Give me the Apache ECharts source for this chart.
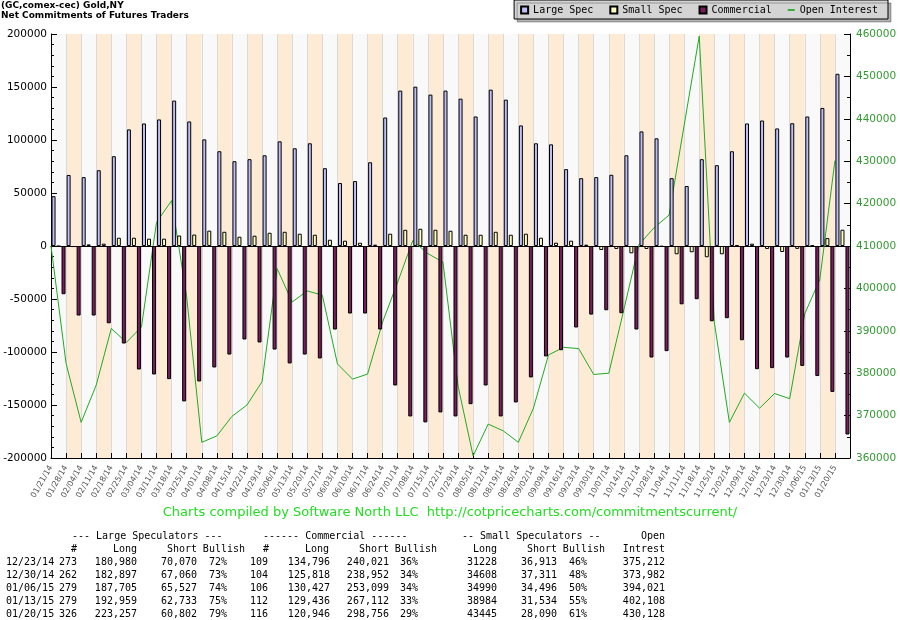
<!DOCTYPE html>
<html>
<head>
<meta charset="utf-8">
<title>Gold COT</title>
<script src="https://cdn.jsdelivr.net/npm/echarts@6/dist/echarts.min.js"></script>
<style>
  html, body { margin: 0; padding: 0; background: #fff; }
  #main { width: 900px; height: 620px; }
</style>
</head>
<body>
<div id="main"></div>
<script>
'use strict';

// weekly report dates
var dates = ['01/21/14','01/28/14','02/04/14','02/11/14','02/18/14','02/25/14','03/04/14','03/11/14','03/18/14','03/25/14',
  '04/01/14','04/08/14','04/15/14','04/22/14','04/29/14','05/06/14','05/13/14','05/20/14','05/27/14','06/03/14',
  '06/10/14','06/17/14','06/24/14','07/01/14','07/08/14','07/15/14','07/22/14','07/29/14','08/05/14','08/12/14',
  '08/19/14','08/26/14','09/02/14','09/09/14','09/16/14','09/23/14','09/30/14','10/07/14','10/14/14','10/21/14',
  '10/28/14','11/04/14','11/11/14','11/18/14','11/25/14','12/02/14','12/09/14','12/16/14','12/23/14','12/30/14',
  '01/06/15','01/13/15','01/20/15'];

// net positions
var largeSpec = [47000, 67000, 65000, 71500, 84700, 110000, 115600, 119400, 137200, 117500,
  100600, 89400, 80000, 81900, 85600, 98750, 92200, 96900, 73400, 59400,
  61250, 79000, 121250, 146600, 150300, 142800, 146600, 139000, 122200, 147500,
  138100, 113750, 96900, 95900, 72500, 64000, 65000, 67200, 85600, 108100,
  101600, 64000, 56600, 81900, 76250, 89400, 115600, 118400, 110910, 115827,
  122178, 130226, 162455];

var smallSpec = [-300, -1000, 1500, 2200, 7800, 7800, 6900, 6900, 9900, 10800,
  14500, 13400, 8750, 9700, 12500, 13400, 11600, 10600, 5900, 5000,
  3100, 1250, 11600, 15300, 16250, 15300, 14400, 10600, 10600, 13400,
  10600, 11600, 7800, 3100, 5000, 1250, -3750, -2800, -6900, -2800,
  -600, -7800, -5900, -10600, -7800, 900, 2200, -2800, -5685, -2703,
  494, 7450, 15355];

var commercial = [-45500, -65600, -65600, -72900, -92000, -116500, -121200, -125600, -146600, -127800,
  -114600, -102400, -88200, -91000, -97700, -110800, -102400, -106100, -78800, -63700,
  -63700, -78800, -131600, -160800, -166400, -157000, -160800, -149200, -131600, -160800,
  -147600, -124000, -104200, -98300, -76900, -64700, -60600, -63400, -78800, -105200,
  -99200, -55000, -50200, -71000, -68100, -88900, -116200, -115200, -105225, -113134,
  -122672, -137676, -177810];

var openInterest = [410000, 382300, 368400, 377200, 390550, 387260, 390900, 415600, 420700, 398000,
  363700, 365200, 369800, 372500, 378000, 404650, 396800, 399400, 398400, 382200,
  378600, 379800, 392100, 401500, 411300, 408200, 406200, 377000, 360500, 368000,
  366400, 363700, 371750, 384300, 386100, 385800, 379700, 380000, 395000, 410300,
  414300, 417300, 438500, 459500, 392000, 368400, 375300, 371750, 375212, 373982,
  394021, 402108, 430128];

// summary table
var tblDates   = ['12/23/14', '12/30/14', '01/06/15', '01/13/15', '01/20/15'];
var lsTraders  = ['273', '262', '279', '279', '326'];
var lsLong     = ['180,980', '182,897', '187,705', '192,959', '223,257'];
var lsShort    = ['70,070', '67,060', '65,527', '62,733', '60,802'];
var lsBullish  = ['72%', '73%', '74%', '75%', '79%'];
var cmTraders  = ['109', '104', '106', '112', '116'];
var cmLong     = ['134,796', '125,818', '130,427', '129,436', '120,946'];
var cmShort    = ['240,021', '238,952', '253,099', '267,112', '298,756'];
var cmBullish  = ['36%', '34%', '34%', '33%', '29%'];
var ssLong     = ['31228', '34608', '34990', '38984', '43445'];
var ssShort    = ['36,913', '37,311', '34,496', '31,534', '28,090'];
var ssBullish  = ['46%', '48%', '50%', '55%', '61%'];
var oiTotal    = ['375,212', '373,982', '394,021', '402,108', '430,128'];

var myChart = echarts.init(document.getElementById('main'));

var MONO = '10px "DejaVu Sans Mono"';
var graphics = [];

function txt(x, y, s, align, fill, font) {
	graphics.push({
		type: 'text', x: x, y: y, silent: true,
		style: { text: s, x: 0, y: 0, textAlign: align || 'right', textVerticalAlign: 'middle',
			fill: fill || '#000', font: font || MONO }
	});
}

// table headers
txt(72, 536, '--- Large Speculators ---', 'left');
txt(263, 536, '------ Commercial ------', 'left');
txt(462, 536, '-- Small Speculators --', 'left');
txt(665, 536, 'Open');
var hdr = [['#', 77], ['Long', 137], ['Short', 197], ['Bullish', 245], ['#', 269], ['Long', 329],
	['Short', 389], ['Bullish', 437], ['Long', 497], ['Short', 557], ['Bullish', 605], ['Intrest', 665]];
for (var h = 0; h < hdr.length; h++) {
	txt(hdr[h][1], 549, hdr[h][0]);
}
var cols = [[lsTraders, 77], [lsLong, 137], [lsShort, 197], [lsBullish, 227], [cmTraders, 268],
	[cmLong, 330], [cmShort, 389], [cmBullish, 418], [ssLong, 497], [ssShort, 557],
	[ssBullish, 587], [oiTotal, 665]];
for (var r = 0; r < tblDates.length; r++) {
	var y = 562 + r * 13;
	txt(6, y, tblDates[r], 'left');
	for (var c = 0; c < cols.length; c++) {
		txt(cols[c][1], y, cols[c][0][r]);
	}
}
txt(450, 513, 'Charts compiled by Software North LLC  http://cotpricecharts.com/commitmentscurrent/',
	'center', '#22dd22', '13px "DejaVu Sans"');

// label axis has one extra slot so its ticks sit on the bar band edges
var tickDates = dates.concat(['']);

function plain(v) { return String(v); }

var option = {
	animation: false,
	backgroundColor: '#ffffff',
	title: {
		text: '(GC,comex-cec) Gold,NY\nNet Commitments of Futures Traders',
		left: 1, top: 1, padding: 0,
		textStyle: { fontSize: 9, fontWeight: 'bold', fontFamily: 'DejaVu Sans', color: '#000', lineHeight: 10 }
	},
	legend: {
		right: 12, top: 0,
		padding: [5, 10, 4, 6],
		itemWidth: 7, itemHeight: 7, itemGap: 16,
		backgroundColor: '#d4d4d4',
		borderColor: '#000', borderWidth: 1,
		shadowColor: 'rgba(0,0,0,0.3)', shadowOffsetX: 3, shadowOffsetY: 3, shadowBlur: 0,
		selectedMode: false,
		textStyle: { fontFamily: 'DejaVu Sans Mono', fontSize: 10, color: '#000' },
		data: [
			{ name: 'Large Spec', icon: 'rect' },
			{ name: 'Small Spec', icon: 'rect' },
			{ name: 'Commercial', icon: 'rect' },
			{ name: 'Open Interest', icon: 'path://M0,3 L8,3 L8,5 L0,5 Z', itemStyle: { color: '#22aa22', borderWidth: 0 } }
		]
	},
	grid: { left: 51, right: 50, top: 34, bottom: 162, containLabel: false },
	xAxis: [{
		type: 'category',
		data: dates,
		boundaryGap: true,
		axisLine: { onZero: true, lineStyle: { color: '#000', width: 1 } },
		axisTick: { show: false },
		axisLabel: { show: false },
		splitLine: { show: true, interval: 0, lineStyle: { color: '#dadada' } },
		splitArea: { show: true, interval: 0, areaStyle: { color: ['#f9f9f9', '#fdebd6'] } }
	}, {
		type: 'category',
		data: tickDates,
		position: 'bottom',
		boundaryGap: false,
		axisLine: { onZero: false, lineStyle: { color: '#000', width: 1 } },
		axisTick: { show: true, inside: true, length: 5, interval: 0, lineStyle: { color: '#000' } },
		axisLabel: { interval: 0, rotate: 60, margin: 8, fontSize: 8, color: '#555', fontFamily: 'DejaVu Sans' },
		splitLine: { show: false }
	}],
	yAxis: [{
		type: 'value',
		position: 'left',
		min: -200000, max: 200000, interval: 50000,
		axisLine: { show: true, lineStyle: { color: '#000' } },
		axisTick: { show: true, inside: true, length: 6, lineStyle: { color: '#000' } },
		minorTick: { show: true, splitNumber: 5, length: 3, lineStyle: { color: '#000' } },
		axisLabel: { fontSize: 10.5, color: '#000', margin: 4, fontFamily: 'DejaVu Sans', formatter: plain },
		splitLine: { show: true, lineStyle: { color: '#dadada' } }
	}, {
		type: 'value',
		position: 'right',
		min: 360000, max: 460000, interval: 10000,
		axisLine: { show: true, lineStyle: { color: '#000' } },
		axisTick: { show: true, inside: true, length: 6, lineStyle: { color: '#000' } },
		minorTick: { show: true, splitNumber: 2, length: 3, lineStyle: { color: '#000' } },
		axisLabel: { fontSize: 10.5, color: '#339933', margin: 6, fontFamily: 'DejaVu Sans', formatter: plain },
		splitLine: { show: false }
	}],
	series: [{
		name: 'Large Spec', type: 'bar', data: largeSpec,
		barWidth: 4, barGap: '25%',
		itemStyle: { color: '#c0c0f8', borderColor: '#000', borderWidth: 1 }
	}, {
		name: 'Small Spec', type: 'bar', data: smallSpec,
		barWidth: 4, barGap: '25%',
		itemStyle: { color: '#ffffc0', borderColor: '#000', borderWidth: 1 }
	}, {
		name: 'Commercial', type: 'bar', data: commercial,
		barWidth: 4, barGap: '25%',
		itemStyle: { color: '#7b1c5c', borderColor: '#000', borderWidth: 1 }
	}, {
		name: 'Open Interest', type: 'line', data: openInterest,
		xAxisIndex: 1, yAxisIndex: 1, z: 1,
		symbol: 'none', showSymbol: false,
		lineStyle: { color: '#22aa22', width: 1 },
		itemStyle: { color: '#22aa22' }
	}],
	graphic: graphics
};

myChart.setOption(option);
window.onresize = myChart.resize;
</script>
</body>
</html>
